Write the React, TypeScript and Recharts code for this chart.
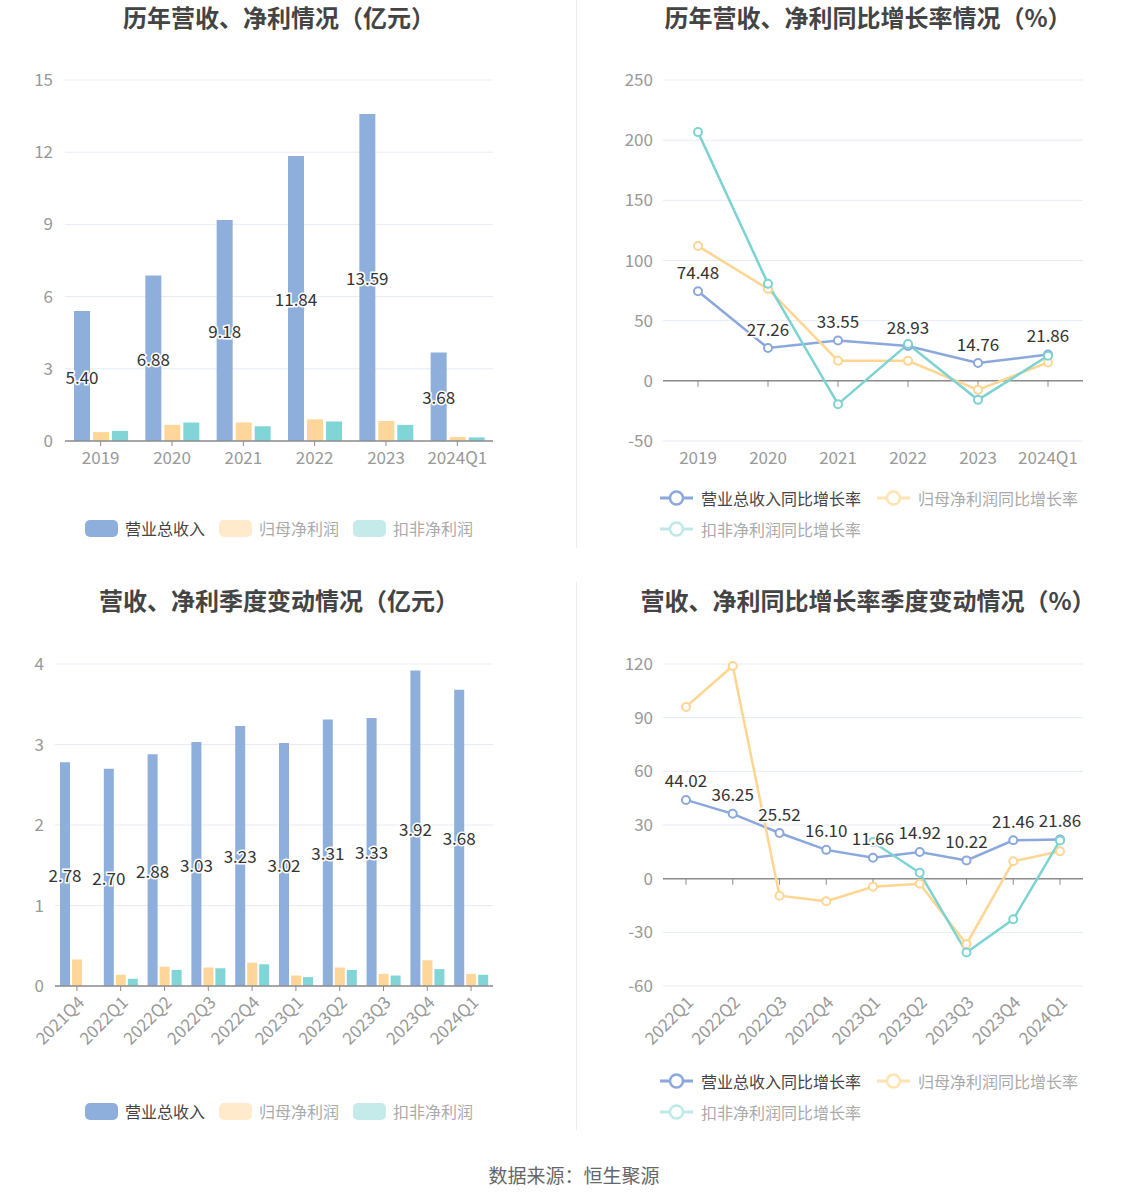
import React from 'react';
import { BarChart, Bar, LineChart, Line, XAxis, YAxis, CartesianGrid, LabelList, ReferenceLine } from 'recharts';

// 年度数据
const yearCats = ['2019', '2020', '2021', '2022', '2023', '2024Q1'];
const yearRevenue = [5.4, 6.88, 9.18, 11.84, 13.59, 3.68];
const yearNetProfit = [0.37, 0.67, 0.77, 0.9, 0.83, 0.17];
const yearDeductedProfit = [0.42, 0.77, 0.61, 0.81, 0.67, 0.15];
const yearRevenueGrowth = [74.48, 27.26, 33.55, 28.93, 14.76, 21.86];
const yearNetProfitGrowth = [112.0, 76.4, 16.7, 16.6, -7.5, 15.3];
const yearDeductedGrowth = [206.7, 80.6, -19.4, 30.6, -15.8, 20.8];

// 季度数据
const quarterCats = ['2021Q4', '2022Q1', '2022Q2', '2022Q3', '2022Q4', '2023Q1', '2023Q2', '2023Q3', '2023Q4', '2024Q1'];
const quarterRevenue = [2.78, 2.7, 2.88, 3.03, 3.23, 3.02, 3.31, 3.33, 3.92, 3.68];
const quarterNetProfit = [0.33, 0.14, 0.24, 0.23, 0.29, 0.13, 0.23, 0.15, 0.32, 0.15];
const quarterDeducted: (number | null)[] = [null, 0.09, 0.2, 0.22, 0.27, 0.11, 0.2, 0.13, 0.21, 0.14];

const growthQuarterCats = ['2022Q1', '2022Q2', '2022Q3', '2022Q4', '2023Q1', '2023Q2', '2023Q3', '2023Q4', '2024Q1'];
const quarterRevenueGrowth = [44.02, 36.25, 25.52, 16.1, 11.66, 14.92, 10.22, 21.46, 21.86];
const quarterNetProfitGrowth = [96.0, 118.9, -9.5, -12.6, -4.5, -2.8, -36.6, 9.7, 15.3];
const quarterDeductedGrowth: (number | null)[] = [null, null, null, null, 20.5, 3.3, -41.3, -22.7, 21.4];

const barSeriesNames = ['营业总收入', '归母净利润', '扣非净利润'];
const lineSeriesNames = ['营业总收入同比增长率', '归母净利润同比增长率', '扣非净利润同比增长率'];

const FONT = '"Noto Sans CJK SC", "Noto Sans", sans-serif';
const BLUE = '#8eaedc';
const ORANGE = '#ffd699';
const TEAL = '#82d5d6';
const BLUE_LINE = '#8aa8dc';
const ORANGE_LINE = '#ffd591';
const TEAL_LINE = '#7dd3d2';
const GRID = '#e6ebf5';
const AXIS = '#8c8c8c';
const TICK = { fill: '#999', fontSize: 17, fontFamily: FONT };

const yearBarData = yearCats.map((name, i) => ({
  name,
  revenue: yearRevenue[i],
  net: yearNetProfit[i],
  deducted: yearDeductedProfit[i],
}));
const yearLineData = yearCats.map((name, i) => ({
  name,
  revenue: yearRevenueGrowth[i],
  net: yearNetProfitGrowth[i],
  deducted: yearDeductedGrowth[i],
}));
const quarterBarData = quarterCats.map((name, i) => ({
  name,
  revenue: quarterRevenue[i],
  net: quarterNetProfit[i],
  deducted: quarterDeducted[i],
}));
const quarterLineData = growthQuarterCats.map((name, i) => ({
  name,
  revenue: quarterRevenueGrowth[i],
  net: quarterNetProfitGrowth[i],
  deducted: quarterDeductedGrowth[i],
}));

const labelStyle = {
  fill: '#333',
  fontSize: 17,
  fontFamily: FONT,
  stroke: '#fff',
  strokeWidth: 3,
  paintOrder: 'stroke' as const,
};

const barLabel = (p: any) => {
  if (p.value == null) return null;
  return (
    <text x={p.x + p.width / 2} y={p.y + p.height / 2} textAnchor="middle" dominantBaseline="central" style={labelStyle}>
      {Number(p.value).toFixed(2)}
    </text>
  );
};

const lineLabel = (p: any) => {
  if (p.value == null) return null;
  return (
    <text x={p.x} y={p.y - 20} textAnchor="middle" dominantBaseline="central" style={labelStyle}>
      {Number(p.value).toFixed(2)}
    </text>
  );
};

const Title = ({ text, cx, cy }: { text: string; cx: number; cy: number }) => (
  <div
    style={{
      position: 'absolute',
      left: cx - 300,
      width: 600,
      top: cy - 16,
      height: 32,
      lineHeight: '32px',
      textAlign: 'center',
      fontSize: 24,
      fontWeight: 'bold',
      color: '#444',
    }}
  >
    {text}
  </div>
);

// 柱状图图例
const BarLegend = ({ cx, cy }: { cx: number; cy: number }) => {
  const swatches = [BLUE, '#ffeacb', '#c4eaea'];
  return (
    <div
      style={{
        position: 'absolute',
        left: cx - 250,
        width: 500,
        top: cy - 12,
        height: 24,
        display: 'flex',
        justifyContent: 'center',
        alignItems: 'center',
        fontSize: 16,
      }}
    >
      {barSeriesNames.map((n, i) => (
        <div key={n} style={{ display: 'flex', alignItems: 'center', marginLeft: i === 0 ? 0 : 14 }}>
          <div style={{ width: 33, height: 17, borderRadius: 5, background: swatches[i], marginRight: 7 }} />
          <span style={{ color: i === 0 ? '#444' : '#aaa' }}>{n}</span>
        </div>
      ))}
    </div>
  );
};

// 折线图图例
const LineIcon = ({ color }: { color: string }) => (
  <svg width={33} height={18} style={{ marginRight: 8 }}>
    <line x1={0} y1={9} x2={33} y2={9} stroke={color} strokeWidth={3} />
    <circle cx={16.5} cy={9} r={6.5} fill="#fff" stroke={color} strokeWidth={2.5} />
  </svg>
);

const LineLegend = ({ left, top }: { left: number; top: number }) => {
  const colors = [BLUE_LINE, '#ffe3b0', '#bfe9e8'];
  const item = (i: number) => (
    <div style={{ display: 'flex', alignItems: 'center', marginRight: 16 }}>
      <LineIcon color={colors[i]} />
      <span style={{ color: i === 0 ? '#444' : '#aaa', fontSize: 16 }}>{lineSeriesNames[i]}</span>
    </div>
  );
  return (
    <div style={{ position: 'absolute', left, top: top - 12 }}>
      <div style={{ display: 'flex', height: 24, alignItems: 'center' }}>
        {item(0)}
        {item(1)}
      </div>
      <div style={{ display: 'flex', height: 24, alignItems: 'center', marginTop: 7 }}>{item(2)}</div>
    </div>
  );
};

const zeroTicks = (cats: string[], depth: number) =>
  cats.map((c) => (
    <ReferenceLine
      key={'t' + c}
      segment={[
        { x: c, y: 0 },
        { x: c, y: -depth },
      ]}
      stroke={AXIS}
      strokeWidth={1}
    />
  ));

export default function App() {
  return (
    <div
      style={{
        position: 'absolute',
        left: 0,
        top: 0,
        width: 1148,
        height: 1202,
        background: '#fff',
        fontFamily: FONT,
        overflow: 'hidden',
      }}
    >
      <Title text="历年营收、净利情况（亿元）" cx={279} cy={17} />
      <Title text="历年营收、净利同比增长率情况（%）" cx={868} cy={17} />
      <Title text="营收、净利季度变动情况（亿元）" cx={279} cy={600} />
      <Title text="营收、净利同比增长率季度变动情况（%）" cx={868} cy={600} />

      <div style={{ position: 'absolute', left: 576, top: 0, width: 1, height: 548, background: '#ebebeb' }} />
      <div style={{ position: 'absolute', left: 576, top: 582, width: 1, height: 548, background: '#ebebeb' }} />

      {/* 左上：年度柱状图 */}
      <div style={{ position: 'absolute', left: 0, top: 0 }}>
        <BarChart width={576} height={560} data={yearBarData} margin={{ top: 80, right: 83, bottom: 89, left: 15 }} barSize={16} barGap={3}>
          <CartesianGrid vertical={false} stroke={GRID} />
          <XAxis
            dataKey="name"
            interval={0}
            axisLine={{ stroke: AXIS, strokeWidth: 1.5 }}
            tickLine={{ stroke: AXIS }}
            tickSize={5}
            tickMargin={6}
            tick={TICK}
          />
          <YAxis width={50} domain={[0, 15]} ticks={[0, 3, 6, 9, 12, 15]} axisLine={false} tickLine={false} tickSize={0} tickMargin={12} tick={TICK} />
          <Bar dataKey="revenue" fill={BLUE} isAnimationActive={false}>
            <LabelList dataKey="revenue" content={barLabel} />
          </Bar>
          <Bar dataKey="net" fill={ORANGE} isAnimationActive={false} />
          <Bar dataKey="deducted" fill={TEAL} isAnimationActive={false} />
        </BarChart>
      </div>
      <BarLegend cx={279} cy={528} />

      {/* 右上：年度增长率 */}
      <div style={{ position: 'absolute', left: 576, top: 0 }}>
        <LineChart width={572} height={560} data={yearLineData} margin={{ top: 80, right: 65, bottom: 89, left: 27 }}>
          <CartesianGrid vertical={false} stroke={GRID} />
          <XAxis
            dataKey="name"
            interval={0}
            padding={{ left: 35, right: 35 }}
            axisLine={false}
            tickLine={false}
            tickSize={5}
            tickMargin={6}
            tick={TICK}
          />
          <YAxis width={60} domain={[-50, 250]} ticks={[-50, 0, 50, 100, 150, 200, 250]} axisLine={false} tickLine={false} tickSize={0} tickMargin={10} tick={TICK} />
          <ReferenceLine y={0} stroke={AXIS} strokeWidth={1.5} />
          {zeroTicks(yearCats, 5)}
          <Line dataKey="revenue" stroke={BLUE_LINE} strokeWidth={2.5} dot={{ r: 4, strokeWidth: 2, fill: '#fff', stroke: BLUE_LINE }} isAnimationActive={false}>
            <LabelList dataKey="revenue" content={lineLabel} />
          </Line>
          <Line dataKey="net" stroke={ORANGE_LINE} strokeWidth={2.5} dot={{ r: 4, strokeWidth: 2, fill: '#fff', stroke: ORANGE_LINE }} isAnimationActive={false} />
          <Line dataKey="deducted" stroke={TEAL_LINE} strokeWidth={2.5} dot={{ r: 4, strokeWidth: 2, fill: '#fff', stroke: TEAL_LINE }} isAnimationActive={false} />
        </LineChart>
      </div>
      <LineLegend left={660} top={498} />

      {/* 左下：季度柱状图 */}
      <div style={{ position: 'absolute', left: 0, top: 580 }}>
        <BarChart width={576} height={560} data={quarterBarData} margin={{ top: 84, right: 83, bottom: 94, left: 10 }} barSize={10} barGap={2}>
          <CartesianGrid vertical={false} stroke={GRID} />
          <XAxis
            dataKey="name"
            interval={0}
            height={60}
            angle={-45}
            textAnchor="end"
            axisLine={{ stroke: AXIS, strokeWidth: 1.5 }}
            tickLine={{ stroke: AXIS }}
            tickSize={5}
            tickMargin={4}
            tick={{ ...TICK, textAnchor: 'end' }}
          />
          <YAxis width={45} domain={[0, 4]} ticks={[0, 1, 2, 3, 4]} axisLine={false} tickLine={false} tickSize={0} tickMargin={11} tick={TICK} />
          <Bar dataKey="revenue" fill={BLUE} isAnimationActive={false}>
            <LabelList dataKey="revenue" content={barLabel} />
          </Bar>
          <Bar dataKey="net" fill={ORANGE} isAnimationActive={false} />
          <Bar dataKey="deducted" fill={TEAL} isAnimationActive={false} />
        </BarChart>
      </div>
      <BarLegend cx={279} cy={1111} />

      {/* 右下：季度增长率 */}
      <div style={{ position: 'absolute', left: 576, top: 580 }}>
        <LineChart width={572} height={560} data={quarterLineData} margin={{ top: 84, right: 65, bottom: 94, left: 27 }}>
          <CartesianGrid vertical={false} stroke={GRID} />
          <XAxis
            dataKey="name"
            interval={0}
            height={60}
            angle={-45}
            textAnchor="end"
            padding={{ left: 23, right: 23 }}
            axisLine={false}
            tickLine={false}
            tickSize={5}
            tickMargin={4}
            tick={{ ...TICK, textAnchor: 'end' }}
          />
          <YAxis width={60} domain={[-60, 120]} ticks={[-60, -30, 0, 30, 60, 90, 120]} axisLine={false} tickLine={false} tickSize={0} tickMargin={10} tick={TICK} />
          <ReferenceLine y={0} stroke={AXIS} strokeWidth={1.5} />
          {zeroTicks(growthQuarterCats, 3.4)}
          <Line dataKey="revenue" stroke={BLUE_LINE} strokeWidth={2.5} dot={{ r: 4, strokeWidth: 2, fill: '#fff', stroke: BLUE_LINE }} isAnimationActive={false}>
            <LabelList dataKey="revenue" content={lineLabel} />
          </Line>
          <Line dataKey="net" stroke={ORANGE_LINE} strokeWidth={2.5} dot={{ r: 4, strokeWidth: 2, fill: '#fff', stroke: ORANGE_LINE }} isAnimationActive={false} />
          <Line dataKey="deducted" stroke={TEAL_LINE} strokeWidth={2.5} dot={{ r: 4, strokeWidth: 2, fill: '#fff', stroke: TEAL_LINE }} isAnimationActive={false} />
        </LineChart>
      </div>
      <LineLegend left={660} top={1081} />

      <div
        style={{
          position: 'absolute',
          left: 0,
          width: 1148,
          top: 1163,
          height: 24,
          lineHeight: '24px',
          textAlign: 'center',
          fontSize: 19,
          color: '#666',
        }}
      >
        数据来源：恒生聚源
      </div>
    </div>
  );
}
